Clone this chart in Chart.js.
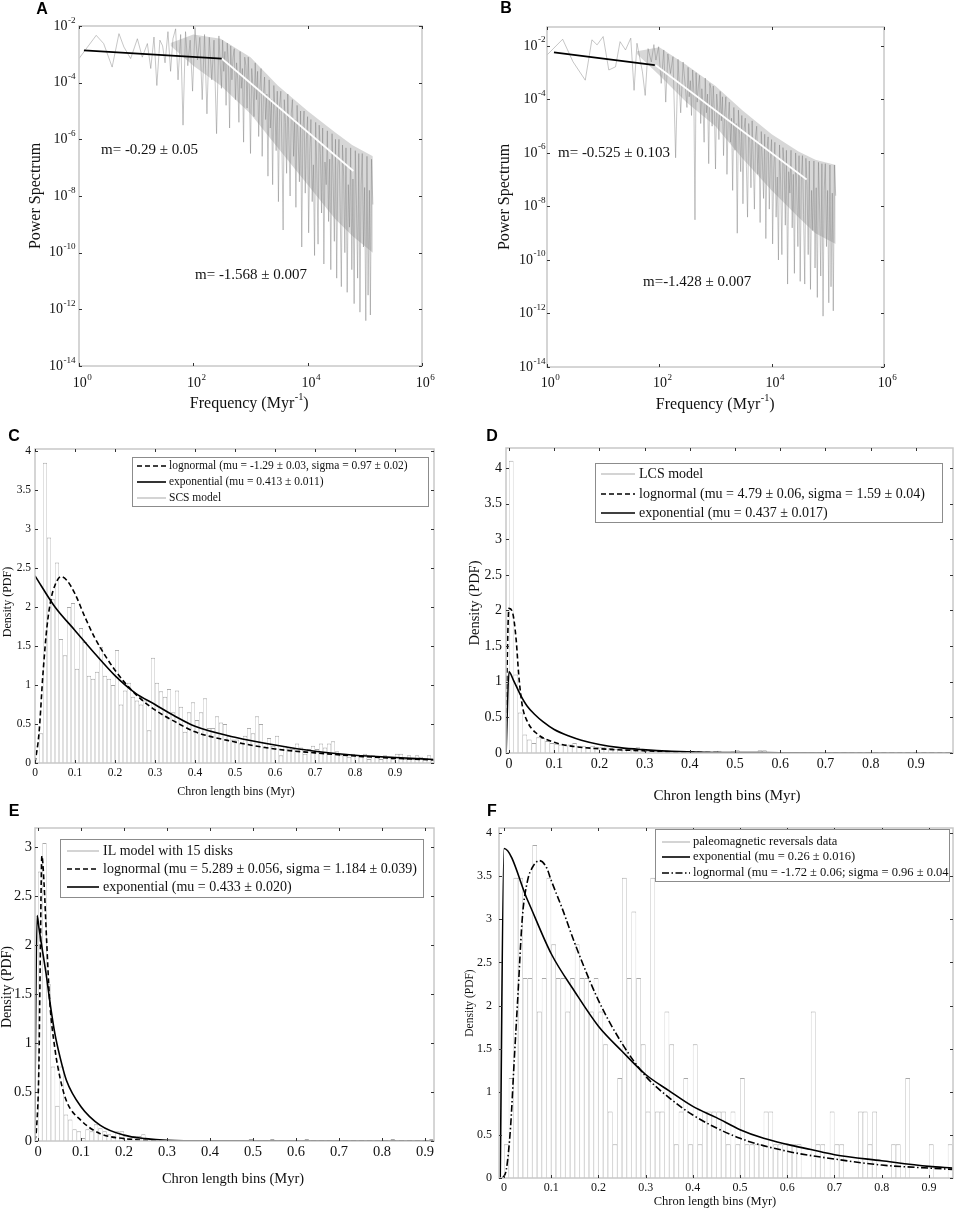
<!DOCTYPE html>
<html>
<head>
<meta charset="utf-8">
<script src="https://cdn.jsdelivr.net/npm/chart.js@4.4.1/dist/chart.umd.min.js"></script>
<style>
  body { margin: 0; background: #fff; width: 954px; height: 1208px; position: relative; overflow: hidden; }
  canvas { position: absolute; }
</style>
</head>
<body>
<canvas id="panelA" width="477" height="420" style="left:0;top:0"></canvas>
<canvas id="panelB" width="477" height="420" style="left:477px;top:0"></canvas>
<canvas id="panelC" width="477" height="380" style="left:0;top:420px"></canvas>
<canvas id="panelD" width="499" height="392" style="left:455px;top:420px"></canvas>
<canvas id="panelE" width="477" height="408" style="left:0;top:800px"></canvas>
<canvas id="panelF" width="499" height="408" style="left:455px;top:800px"></canvas>
<script>
// ---------------- power spectra (A, B) ----------------
// frequencies in Myr^-1, powers stored as log10 values
var psdFreqLowA = [1, 1.4, 2, 2.7, 3.8, 5, 6.1, 8, 10.5, 12.8,
  15.7, 18, 20.5, 23, 26, 29, 32, 36, 40, 44,
  49, 54, 60, 66, 73, 80, 88, 97, 107, 118,
  130, 143, 157, 173, 190, 210, 230, 255, 280, 310];
var psdLogLowA = [-3.15, -2.75, -2.33, -2.62, -3.45, -2.27, -2.74, -3.15, -2.45, -3.1,
  -2.62, -3.5, -2.39, -4.1, -2.5, -2.7, -3.3, -2.2, -3.6, -2.45,
  -2.1, -3.9, -2.3, -5.5, -2.2, -3.4, -2.5, -4.3, -2.05, -3.2,
  -2.4, -4.6, -2.3, -5.1, -2.4, -3.9, -2.5, -5.8, -2.35, -4.2];

var psdFreqLowB = [1, 1.9, 2.9, 4.8, 6.3, 7.8, 10, 12.6, 16.6, 20,
  25, 31, 35.5, 40, 50, 56, 63, 72, 80, 87,
  97, 108, 120, 130, 142, 158, 175, 195, 215, 240,
  265, 290, 310];
var psdLogLowB = [-2.34, -1.75, -2.59, -3.28, -1.77, -1.96, -1.65, -2.9, -2.78, -1.84,
  -2.15, -1.71, -3.66, -1.9, -2.97, -3.85, -2.1, -2.6, -1.95, -2.53,
  -2.03, -3.4, -2.15, -4.1, -2.3, -3.03, -2.4, -6.18, -2.5, -4.5,
  -2.6, -3.5, -4.3];

var psdFreqHigh = [325, 340, 357, 374, 392, 411, 431, 451, 473, 496,
  520, 545, 571, 598, 627, 657, 689, 722, 757, 793,
  831, 871, 913, 957, 1000, 1050, 1100, 1150, 1210, 1270,
  1330, 1390, 1460, 1530, 1600, 1680, 1760, 1840, 1930, 2020,
  2120, 2220, 2330, 2440, 2560, 2680, 2810, 2940, 3080, 3230,
  3390, 3550, 3720, 3900, 4090, 4280, 4490, 4700, 4930, 5170,
  5410, 5670, 5950, 6230, 6530, 6840, 7170, 7520, 7880, 8260,
  8650, 9070, 9500, 9960, 10400, 10900, 11400, 12000, 12600, 13200,
  13800, 14500, 15200, 15900, 16700, 17500, 18300, 19200, 20100, 21100,
  22100, 23200, 24300, 25400, 26700, 27900, 29300, 30700, 32200, 33700,
  35300, 37000, 38800, 40700, 42600, 44700, 46800, 49100, 51400, 53900,
  56500, 59200, 62000, 65000, 68100, 71400, 74800, 78400, 82200, 86100,
  90200, 94600, 99100, 104000, 109000, 114000, 120000, 125000, 131000, 138000];
var psdLogHighA = [-2.5, -3.6, -2.9, -4.8, -2.6, -3.3, -5.6, -2.7, -3.9, -3.1,
  -2.8, -4.6, -3.3, -3.9, -5.4, -2.9, -4.2, -3.5, -6.1, -3.1,
  -3.4, -4.9, -3.1, -4.3, -6.5, -3.5, -4.1, -5.2, -3.3, -4.6,
  -3.6, -5.9, -4.2, -3.5, -6.6, -4.5, -3.8, -5.3, -4.4, -7.3,
  -3.9, -5.6, -4.6, -7.6, -4.1, -5.0, -6.4, -4.3, -8.2, -4.8,
  -4.3, -6.3, -9.2, -4.6, -5.4, -7.2, -4.4, -6.0, -8.0, -5.1,
  -4.6, -6.6, -5.3, -8.4, -4.8, -6.1, -7.5, -5.0, -9.8, -5.6,
  -5.0, -7.9, -6.0, -5.2, -9.3, -6.5, -5.3, -8.2, -6.9, -10.1,
  -5.4, -7.2, -9.7, -5.5, -6.5, -8.6, -5.6, -10.4, -6.8, -7.6,
  -5.7, -8.9, -6.7, -10.6, -5.8, -7.4, -9.6, -6.0, -10.9, -7.0,
  -6.0, -8.4, -11.2, -6.2, -7.3, -10.0, -6.3, -11.4, -7.6, -9.1,
  -6.3, -10.6, -7.4, -11.8, -6.4, -8.3, -10.9, -6.5, -12.1, -7.6,
  -6.5, -9.8, -7.7, -12.4, -6.6, -11.5, -7.8, -12.2, -6.7, -8.3];
var psdLogHighB = [-2.8, -3.9, -3.3, -4.6, -2.9, -3.7, -8.5, -3.0, -4.1, -3.5,
  -3.1, -4.9, -3.6, -4.2, -5.6, -3.2, -4.5, -3.8, -6.4, -3.4,
  -3.6, -5.0, -3.5, -4.5, -6.6, -3.8, -4.4, -5.5, -3.7, -4.8,
  -3.9, -6.1, -4.5, -3.9, -6.8, -4.8, -4.1, -5.6, -4.7, -7.4,
  -4.3, -5.9, -4.9, -9.0, -4.4, -5.3, -6.7, -4.6, -7.9, -5.1,
  -4.7, -6.5, -8.4, -4.9, -5.6, -7.3, -4.8, -6.2, -8.1, -5.4,
  -5.0, -6.8, -5.6, -8.6, -5.2, -6.3, -7.7, -5.3, -9.2, -5.9,
  -5.4, -8.1, -6.2, -5.5, -9.4, -6.6, -5.6, -8.4, -6.9, -10.0,
  -5.7, -7.2, -9.8, -5.8, -6.5, -8.7, -5.9, -10.9, -6.7, -7.5,
  -5.9, -8.8, -6.8, -10.5, -6.0, -7.3, -9.5, -6.1, -10.8, -7.0,
  -6.1, -8.3, -10.9, -6.2, -7.2, -9.8, -6.3, -11.1, -7.4, -8.9,
  -6.3, -10.3, -7.3, -11.4, -6.35, -8.1, -10.6, -6.4, -12.1, -7.4,
  -6.4, -9.5, -7.4, -11.6, -6.45, -11.0, -7.5, -11.9, -6.45, -7.6];

// dense part of the spectrum: upper envelope and lower edge of the solid grey band (log10)
var bandFreq = [40, 100, 300, 1000, 3000, 10000, 30000, 60000, 138000];
var bandHiA = [-2.6, -2.3, -2.45, -3.1, -4.1, -5.0, -5.75, -6.2, -6.6];
var bandLoA = [-2.7, -3.4, -4.1, -5.1, -6.3, -7.6, -8.8, -9.4, -10.0];
var bandHiB = [-2.2, -2.05, -2.7, -3.5, -4.4, -5.3, -5.95, -6.25, -6.45];
var bandLoB = [-2.3, -3.1, -4.1, -5.0, -6.2, -7.4, -8.4, -9.0, -9.4];

// fitted power-law segments (end points)
var fitLowA_f = [1.22, 314],   fitLowA_p = [1.38e-3, 7.1e-4];
var fitHighA_f = [314, 63000], fitHighA_p = [7.1e-4, 7.6e-8];
var fitLowB_f = [1.33, 83],    fitLowB_p = [5.75e-3, 1.9e-3];
var fitHighB_f = [86, 41900],  fitHighB_p = [1.9e-3, 1.02e-7];

var freqTicks = [1, 1e2, 1e4, 1e6];
var powerTicks = [1e-14, 1e-12, 1e-10, 1e-8, 1e-6, 1e-4, 1e-2];

// ---------------- chron length histograms (C - F), bin width 0.01 Myr ----------------
var binWidth = 0.01;
var histC = [0.0, 0.38, 3.85, 2.89, 2.1, 2.57, 1.59, 1.38, 2.0, 2.05,
  1.21, 1.73, 1.55, 1.12, 1.08, 1.17, 1.49, 1.12, 1.08, 1.0,
  1.45, 0.75, 0.93, 1.03, 0.85, 0.8, 0.75, 0.8, 0.42, 1.35,
  1.03, 0.92, 0.85, 0.95, 0.65, 0.93, 0.72, 0.4, 0.65, 0.78,
  0.55, 0.65, 0.83, 0.45, 0.45, 0.6, 0.52, 0.5, 0.35, 0.3,
  0.3, 0.25, 0.35, 0.45, 0.38, 0.6, 0.5, 0.2, 0.32, 0.22,
  0.35, 0.1, 0.22, 0.2, 0.18, 0.25, 0.2, 0.12, 0.18, 0.22,
  0.18, 0.25, 0.2, 0.25, 0.28, 0.15, 0.1, 0.12, 0.08, 0.12,
  0.1, 0.08, 0.12, 0.05, 0.1, 0.08, 0.05, 0.1, 0.08, 0.05,
  0.12, 0.12, 0.05, 0.1, 0.05, 0.1, 0.08, 0.05, 0.1, 0.05];
var histD = [4.1, 1.1, 0.57, 0.26, 0.19, 0.14, 0.22, 0.21, 0.17, 0.14,
  0.13, 0.12, 0.11, 0.12, 0.14, 0.1, 0.1, 0.08, 0.1, 0.08,
  0.08, 0.09, 0.07, 0.06, 0.06, 0.05, 0.06, 0.05, 0.08, 0.06,
  0.03, 0.02, 0.02, 0.02, 0.01, 0.03, 0.01, 0.0, 0.01, 0.02,
  0.02, 0.01, 0.0, 0.01, 0.0, 0.02, 0.03, 0.01, 0.0, 0.02,
  0.04, 0.01, 0.0, 0.01, 0.0, 0.04, 0.04, 0.0, 0.01, 0.0,
  0.01, 0.0, 0.0, 0.01, 0.0, 0.0, 0.01, 0.0, 0.0, 0.0,
  0.01, 0.0, 0.0, 0.0, 0.01, 0.0, 0.0, 0.0, 0.0, 0.01,
  0.0, 0.0, 0.0, 0.0, 0.0, 0.01, 0.0, 0.0, 0.0, 0.0,
  0.0, 0.0, 0.01, 0.0, 0.0, 0.0, 0.0, 0.0];
var histE = [2.75, 3.04, 1.6, 0.76, 0.36, 0.76, 0.27, 0.22, 0.12, 0.1,
  0.03, 0.12, 0.1, 0.17, 0.13, 0.1, 0.07, 0.05, 0.1, 0.1,
  0.06, 0.03, 0.05, 0.05, 0.07, 0.03, 0.02, 0.01, 0.01, 0.0,
  0.01, 0.0, 0.0, 0.0, 0.0, 0.0, 0.0, 0.0, 0.0, 0.0,
  0.0, 0.0, 0.0, 0.0, 0.0, 0.0, 0.0, 0.0, 0.0, 0.02,
  0.0, 0.0, 0.0, 0.0, 0.02, 0.0, 0.0, 0.0, 0.0, 0.0,
  0.0, 0.0, 0.02, 0.0, 0.0, 0.0, 0.0, 0.0, 0.0, 0.0,
  0.0, 0.0, 0.0, 0.0, 0.0, 0.0, 0.0, 0.0, 0.0, 0.0,
  0.0, 0.0, 0.02, 0.0, 0.0, 0.0, 0.0, 0.0, 0.0, 0.0,
  0.0, 0.02];
var histF = [0.39, 1.16, 3.48, 3.48, 2.32, 2.32, 3.86, 1.93, 2.32, 3.48,
  2.71, 2.32, 2.32, 1.93, 2.32, 2.71, 2.32, 2.32, 1.93, 2.32,
  1.93, 1.55, 0.77, 0.39, 1.16, 3.48, 2.32, 3.09, 2.32, 1.55,
  0.77, 3.48, 0.77, 0.77, 1.93, 1.55, 0.39, 0.77, 1.16, 0.39,
  1.55, 0.39, 0.77, 0.77, 0.77, 0.77, 0.77, 0.39, 0.77, 0.39,
  1.16, 0.39, 0.39, 0.39, 0.39, 0.77, 0.77, 0.39, 0.39, 0.39,
  0.39, 0.39, 0.39, 0, 0, 1.93, 0.39, 0.39, 0, 0.77,
  0.39, 0.39, 0, 0, 0, 0.77, 0.77, 0.39, 0.77, 0,
  0, 0, 0.39, 0.39, 0, 1.16, 0, 0, 0, 0,
  0.39, 0, 0, 0, 0.39];

// fitted pdf curves, read point by point
var lognC_x = [0, 0.01, 0.02, 0.03, 0.04, 0.05, 0.065, 0.08, 0.1, 0.125, 0.15, 0.2, 0.25, 0.3, 0.35, 0.4, 0.5, 0.6, 0.7, 0.8, 0.9, 1.0];
var lognC_y = [0, 0.38, 1.15, 1.75, 2.1, 2.28, 2.39, 2.34, 2.17, 1.87, 1.6, 1.19, 0.89, 0.68, 0.53, 0.4, 0.27, 0.18, 0.13, 0.09, 0.06, 0.04];
var expC_x = [0, 0.05, 0.1, 0.15, 0.2, 0.25, 0.3, 0.35, 0.4, 0.5, 0.6, 0.7, 0.8, 0.9, 1.0];
var expC_y = [2.4, 2.0, 1.7, 1.4, 1.12, 0.9, 0.75, 0.6, 0.47, 0.33, 0.23, 0.15, 0.1, 0.07, 0.045];

var lognD_x = [-0.008, 0, 0.008, 0.016, 0.0215, 0.029, 0.04, 0.062, 0.1, 0.145, 0.2, 0.3, 0.4, 0.6, 0.98];
var lognD_y = [0, 2.03, 1.97, 1.58, 1.1, 0.68, 0.45, 0.27, 0.15, 0.09, 0.06, 0.03, 0.01, 0.002, 0];
var expD_x = [-0.0064, 0, 0.01, 0.025, 0.04, 0.057, 0.075, 0.1, 0.134, 0.16, 0.2, 0.245, 0.295, 0.36, 0.43, 0.6, 0.98];
var expD_y = [0, 1.14, 1.02, 0.82, 0.66, 0.54, 0.44, 0.33, 0.235, 0.18, 0.12, 0.075, 0.047, 0.023, 0.01, 0.004, 0];

var lognE_x = [-0.008, -0.004, 0.002, 0.005, 0.009, 0.014, 0.02, 0.027, 0.039, 0.051, 0.066, 0.1, 0.145, 0.2, 0.25, 0.3, 0.92];
var lognE_y = [0, 0.1, 0.75, 1.78, 2.91, 2.63, 2.05, 1.44, 0.95, 0.65, 0.41, 0.21, 0.075, 0.024, 0.007, 0.002, 0];
var expE_x = [-0.008, -0.002, 0.002, 0.009, 0.02, 0.027, 0.039, 0.051, 0.066, 0.1, 0.145, 0.2, 0.25, 0.3, 0.4, 0.92];
var expE_y = [0.05, 2.3, 2.18, 1.98, 1.67, 1.44, 1.1, 0.86, 0.62, 0.35, 0.16, 0.06, 0.024, 0.007, 0.001, 0];

var expF_x = [-0.008, 0, 0.05, 0.1, 0.15, 0.2, 0.25, 0.3, 0.35, 0.4, 0.45, 0.5, 0.55, 0.6, 0.65, 0.7, 0.8, 0.9, 0.95];
var expF_y = [0, 3.82, 3.22, 2.6, 2.16, 1.76, 1.47, 1.2, 1.01, 0.83, 0.7, 0.56, 0.46, 0.39, 0.33, 0.27, 0.2, 0.135, 0.115];
var lognF_x = [-0.003, 0.005, 0.014, 0.022, 0.029, 0.039, 0.05, 0.06, 0.075, 0.09, 0.1, 0.125, 0.15, 0.2, 0.25, 0.3, 0.35, 0.4, 0.5, 0.6, 0.7, 0.8, 0.9, 0.95];
var lognF_y = [0, 0.1, 0.6, 1.4, 2.07, 3.03, 3.45, 3.6, 3.68, 3.6, 3.45, 3.1, 2.72, 2.06, 1.56, 1.18, 0.93, 0.73, 0.46, 0.31, 0.22, 0.15, 0.115, 0.1];

var binTicks = [0, 0.1, 0.2, 0.3, 0.4, 0.5, 0.6, 0.7, 0.8, 0.9];
var densityTicks4 = [0, 0.5, 1, 1.5, 2, 2.5, 3, 3.5, 4];
var densityTicks3 = [0, 0.5, 1, 1.5, 2, 2.5, 3];

// ---------------- drawing helpers ----------------
var SERIF = '"Liberation Serif", "Times New Roman", serif';
var SANS = '"Liberation Sans", Arial, sans-serif';
var GREY = '#a9a9a9';
var DASH = [5, 3];
var DASHDOT = [7, 2.5, 1.5, 2.5];

function font(px, bold) { return (bold ? 'bold ' : '') + px + 'px ' + (bold ? SANS : SERIF); }

function zip(xs, ys, toPow) {
  var out = [];
  for (var i = 0; i < Math.min(xs.length, ys.length); i++) {
    out.push({ x: xs[i], y: toPow ? Math.pow(10, ys[i]) : ys[i] });
  }
  return out;
}

function bars(h) {
  return h.map(function (v, i) { return { x: (i + 0.5) * binWidth, y: v }; });
}

// text made of normal and superscript pieces
function drawSegments(ctx, segs, x, y, size, align) {
  var widths = [], total = 0;
  segs.forEach(function (s) {
    ctx.font = font(s[1] ? size * 0.65 : size);
    var w = ctx.measureText(s[0]).width;
    widths.push(w); total += w;
  });
  var cx = align === 'right' ? x - total : align === 'center' ? x - total / 2 : x;
  ctx.textAlign = 'left';
  segs.forEach(function (s, i) {
    ctx.font = font(s[1] ? size * 0.65 : size);
    ctx.fillText(s[0], cx, s[1] ? y - size * 0.42 : y);
    cx += widths[i] + (s[1] ? 0 : 0.5);
  });
}

function strokeStyleFor(ctx, style) {
  ctx.setLineDash([]);
  if (style === 'grey') { ctx.strokeStyle = GREY; ctx.lineWidth = 1; }
  else { ctx.strokeStyle = '#000'; ctx.lineWidth = 1.6; }
  if (style === 'dash') ctx.setLineDash(DASH);
  if (style === 'dashdot') ctx.setLineDash(DASHDOT);
}

var matlabFrame = {
  id: 'matlabFrame',
  afterDraw: function (chart, args, o) {
    var ctx = chart.ctx, a = chart.chartArea;
    var xs = chart.scales.x, ys = chart.scales.y;
    var ox = o.origin[0], oy = o.origin[1];
    ctx.save();

    // axes box
    ctx.strokeStyle = '#c8c8c8';
    ctx.lineWidth = 1.5;
    ctx.strokeRect(a.left, a.top, a.right - a.left, a.bottom - a.top);

    // inward tick marks on all four sides
    ctx.strokeStyle = '#333';
    ctx.lineWidth = 1;
    ctx.beginPath();
    o.xTicks.forEach(function (v) {
      var px = Math.round(xs.getPixelForValue(v)) + 0.5;
      ctx.moveTo(px, a.bottom); ctx.lineTo(px, a.bottom - 3);
      ctx.moveTo(px, a.top); ctx.lineTo(px, a.top + 3);
    });
    o.yTicks.forEach(function (v) {
      var py = Math.round(ys.getPixelForValue(v)) + 0.5;
      ctx.moveTo(a.left, py); ctx.lineTo(a.left + 3, py);
      ctx.moveTo(a.right, py); ctx.lineTo(a.right - 3, py);
    });
    ctx.stroke();

    // tick labels
    ctx.fillStyle = '#111';
    ctx.textBaseline = 'middle';
    o.yTicks.forEach(function (v) {
      var py = ys.getPixelForValue(v);
      if (o.log) drawSegments(ctx, [['10', 0], [String(Math.round(Math.log10(v))), 1]], o.yLabelRight - ox, py, o.tickSize, 'right');
      else { ctx.font = font(o.tickSize); ctx.textAlign = 'right'; ctx.fillText(String(v), o.yLabelRight - ox, py); }
    });
    o.xTicks.forEach(function (v) {
      var px = xs.getPixelForValue(v);
      if (o.log) drawSegments(ctx, [['10', 0], [String(Math.round(Math.log10(v))), 1]], px + 3, o.xLabelY - oy, o.tickSize, 'center');
      else { ctx.font = font(o.tickSize); ctx.textAlign = 'center'; ctx.fillText(String(v), px, o.xLabelY - oy); }
    });

    // axis titles
    drawSegments(ctx, o.xTitle, o.xTitlePos[0] - ox, o.xTitlePos[1] - oy, o.titleSize, 'center');
    ctx.save();
    ctx.translate(o.yTitlePos[0] - ox, o.yTitlePos[1] - oy);
    ctx.rotate(-Math.PI / 2);
    ctx.font = font(o.yTitleSize || o.titleSize);
    ctx.textAlign = 'center';
    ctx.fillText(o.yTitle, 0, 0);
    ctx.restore();

    // slope annotations
    (o.notes || []).forEach(function (n) {
      ctx.font = font(o.noteSize);
      ctx.textAlign = 'left';
      ctx.fillText(n.text, n.x - ox, n.y - oy);
    });

    // legend
    if (o.legend) {
      var L = o.legend;
      ctx.fillStyle = '#fff';
      ctx.fillRect(L.box[0] - ox, L.box[1] - oy, L.box[2] - L.box[0], L.box[3] - L.box[1]);
      ctx.strokeStyle = '#8c8c8c';
      ctx.lineWidth = 1;
      ctx.strokeRect(L.box[0] - ox + 0.5, L.box[1] - oy + 0.5, L.box[2] - L.box[0], L.box[3] - L.box[1]);
      L.items.forEach(function (it) {
        strokeStyleFor(ctx, it.style);
        ctx.beginPath();
        ctx.moveTo(L.sample[0] - ox, it.y - oy);
        ctx.lineTo(L.sample[1] - ox, it.y - oy);
        ctx.stroke();
        ctx.setLineDash([]);
        ctx.fillStyle = '#111';
        ctx.font = font(L.size);
        ctx.textAlign = 'left';
        ctx.fillText(it.label, L.textX - ox, it.y - oy);
      });
    }

    // panel letter
    ctx.fillStyle = '#000';
    ctx.font = font(16, true);
    ctx.textAlign = 'center';
    ctx.fillText(o.letter, o.letterPos[0] - ox, o.letterPos[1] - oy);
    ctx.restore();
  }
};

function curve(xs, ys, style) {
  return {
    type: 'line', data: zip(xs, ys), borderColor: '#000', borderWidth: 1.6,
    borderDash: style === 'dash' ? DASH : style === 'dashdot' ? DASHDOT : [],
    pointRadius: 0, cubicInterpolationMode: 'monotone', fill: false
  };
}

function histPanel(id, padding, xRange, yMax, hist, curves, frame) {
  var datasets = curves.concat([{
    type: 'bar', data: bars(hist), backgroundColor: '#fff', borderColor: GREY,
    borderWidth: { left: 0.6, right: 0.6, top: 1, bottom: 0 },
    barPercentage: 1, categoryPercentage: 1, inflateAmount: 0
  }]);
  return new Chart(document.getElementById(id), {
    type: 'bar',
    data: { datasets: datasets },
    options: {
      responsive: false, animation: false,
      layout: { padding: padding },
      plugins: { legend: { display: false }, tooltip: { enabled: false }, matlabFrame: frame },
      scales: {
        x: { type: 'linear', display: false, offset: false, min: xRange[0], max: xRange[1] },
        y: { type: 'linear', display: false, min: 0, max: yMax }
      }
    },
    plugins: [matlabFrame]
  });
}

function psdPanel(id, padding, yMax, freq, logPow, band, fitLow, fitHigh, frame) {
  return new Chart(document.getElementById(id), {
    type: 'line',
    data: {
      datasets: [
        { data: zip(fitLow[0], fitLow[1]), borderColor: '#000', borderWidth: 1.8, pointRadius: 0 },
        { data: zip(fitHigh[0], fitHigh[1]), borderColor: '#fff', borderWidth: 1.8, pointRadius: 0 },
        { data: zip(freq, logPow, true), borderColor: 'rgba(125,125,125,0.55)', borderWidth: 0.8, pointRadius: 0 },
        { data: zip(bandFreq, band[0], true), borderWidth: 0, pointRadius: 0, fill: false },
        { data: zip(bandFreq, band[1], true), borderWidth: 0, pointRadius: 0, fill: '-1',
          backgroundColor: 'rgba(175,175,175,0.5)' }
      ]
    },
    options: {
      responsive: false, animation: false,
      layout: { padding: padding },
      plugins: { legend: { display: false }, tooltip: { enabled: false }, matlabFrame: frame },
      scales: {
        x: { type: 'logarithmic', display: false, min: 1, max: 1e6 },
        y: { type: 'logarithmic', display: false, min: 1e-14, max: yMax }
      }
    },
    plugins: [matlabFrame]
  });
}

var freqTitle = [['Frequency (Myr', 0], ['-1', 1], [')', 0]];
var chronTitle = [['Chron length bins (Myr)', 0]];

// A
psdPanel('panelA', { left: 79, top: 26, right: 55, bottom: 54 }, 1e-2,
  psdFreqLowA.concat(psdFreqHigh), psdLogLowA.concat(psdLogHighA), [bandHiA, bandLoA],
  [fitLowA_f, fitLowA_p], [fitHighA_f, fitHighA_p], {
    origin: [0, 0], log: true, xTicks: freqTicks, yTicks: powerTicks, tickSize: 14,
    yLabelRight: 75, xLabelY: 383, xTitle: freqTitle, xTitlePos: [249, 404], titleSize: 16,
    yTitle: 'Power Spectrum', yTitlePos: [36, 196], letter: 'A', letterPos: [42, 10], noteSize: 15,
    notes: [{ text: 'm= -0.29 \u00b1 0.05', x: 101, y: 150 }, { text: 'm= -1.568 \u00b1 0.007', x: 195, y: 275 }]
  });

// B
psdPanel('panelB', { left: 70, top: 27, right: 70, bottom: 53 }, 0.051,
  psdFreqLowB.concat(psdFreqHigh), psdLogLowB.concat(psdLogHighB), [bandHiB, bandLoB],
  [fitLowB_f, fitLowB_p], [fitHighB_f, fitHighB_p], {
    origin: [477, 0], log: true, xTicks: freqTicks, yTicks: powerTicks, tickSize: 14,
    yLabelRight: 545, xLabelY: 383, xTitle: freqTitle, xTitlePos: [715, 405], titleSize: 16,
    yTitle: 'Power Spectrum', yTitlePos: [505, 197], letter: 'B', letterPos: [506, 9], noteSize: 15,
    notes: [{ text: 'm= -0.525 \u00b1 0.103', x: 558, y: 153 }, { text: 'm=-1.428 \u00b1 0.007', x: 643, y: 282 }]
  });

// C
histPanel('panelC', { left: 35, top: 29, right: 43, bottom: 37 }, [0, 0.9975], 4.026, histC,
  [curve(lognC_x, lognC_y, 'dash'), curve(expC_x, expC_y, 'solid')], {
    origin: [0, 420], xTicks: binTicks, yTicks: densityTicks4, tickSize: 11.5,
    yLabelRight: 31, xLabelY: 773, xTitle: chronTitle, xTitlePos: [236, 792], titleSize: 12,
    yTitle: 'Density (PDF)', yTitlePos: [8, 602], letter: 'C', letterPos: [14, 437],
    legend: {
      box: [132, 457, 428, 506], sample: [137, 166], textX: 169, size: 11.5,
      items: [
        { label: 'lognormal (mu = -1.29 \u00b1 0.03, sigma = 0.97 \u00b1 0.02)', y: 466, style: 'dash' },
        { label: 'exponential (mu = 0.413 \u00b1 0.011)', y: 482, style: 'solid' },
        { label: 'SCS model', y: 498, style: 'grey' }
      ]
    }
  });

// D
histPanel('panelD', { left: 51, top: 28, right: 1, bottom: 59 }, [-0.0066, 0.982], 4.28, histD,
  [curve(lognD_x, lognD_y, 'dash'), curve(expD_x, expD_y, 'solid')], {
    origin: [455, 420], xTicks: binTicks, yTicks: densityTicks4, tickSize: 14,
    yLabelRight: 502, xLabelY: 764, xTitle: chronTitle, xTitlePos: [727, 796], titleSize: 15,
    yTitle: 'Density (PDF)', yTitlePos: [475, 603], yTitleSize: 14.5, letter: 'D', letterPos: [492, 437],
    legend: {
      box: [595, 463, 942, 522], sample: [601, 635], textX: 639, size: 14,
      items: [
        { label: 'LCS model', y: 474, style: 'grey' },
        { label: 'lognormal (mu = 4.79 \u00b1 0.06, sigma = 1.59 \u00b1 0.04)', y: 494, style: 'dash' },
        { label: 'exponential (mu = 0.437 \u00b1 0.017)', y: 513, style: 'solid' }
      ]
    }
  });

// E
histPanel('panelE', { left: 35, top: 28, right: 43, bottom: 67 }, [-0.007, 0.921], 3.194, histE,
  [curve(lognE_x, lognE_y, 'dash'), curve(expE_x, expE_y, 'solid')], {
    origin: [0, 800], xTicks: binTicks, yTicks: densityTicks3, tickSize: 14.5,
    yLabelRight: 32, xLabelY: 1152, xTitle: chronTitle, xTitlePos: [233, 1179], titleSize: 14.5,
    yTitle: 'Density (PDF)', yTitlePos: [7, 987], yTitleSize: 14, letter: 'E', letterPos: [14, 812],
    legend: {
      box: [60, 839, 423, 897], sample: [67, 99], textX: 103, size: 14,
      items: [
        { label: 'IL model with 15 disks', y: 851, style: 'grey' },
        { label: 'lognormal (mu = 5.289 \u00b1 0.056, sigma = 1.184 \u00b1 0.039)', y: 869, style: 'dash' },
        { label: 'exponential (mu = 0.433 \u00b1 0.020)', y: 887, style: 'solid' }
      ]
    }
  });

// F
histPanel('panelF', { left: 44, top: 28, right: 1, bottom: 30 }, [-0.0106, 0.951], 4.058, histF,
  [curve(expF_x, expF_y, 'solid'), curve(lognF_x, lognF_y, 'dashdot')], {
    origin: [455, 800], xTicks: binTicks, yTicks: densityTicks4, tickSize: 12,
    yLabelRight: 492, xLabelY: 1188, xTitle: chronTitle, xTitlePos: [715, 1202], titleSize: 12.5,
    yTitle: 'Density (PDF)', yTitlePos: [470, 1003], yTitleSize: 11.5, letter: 'F', letterPos: [492, 812],
    legend: {
      box: [655, 829, 949, 881], sample: [662, 690], textX: 693, size: 12.5,
      items: [
        { label: 'paleomagnetic reversals data', y: 842, style: 'grey' },
        { label: 'exponential (mu = 0.26 \u00b1 0.016)', y: 857, style: 'solid' },
        { label: 'lognormal (mu = -1.72 \u00b1 0.06; sigma = 0.96 \u00b1 0.04', y: 873, style: 'dashdot' }
      ]
    }
  });
</script>
</body>
</html>
